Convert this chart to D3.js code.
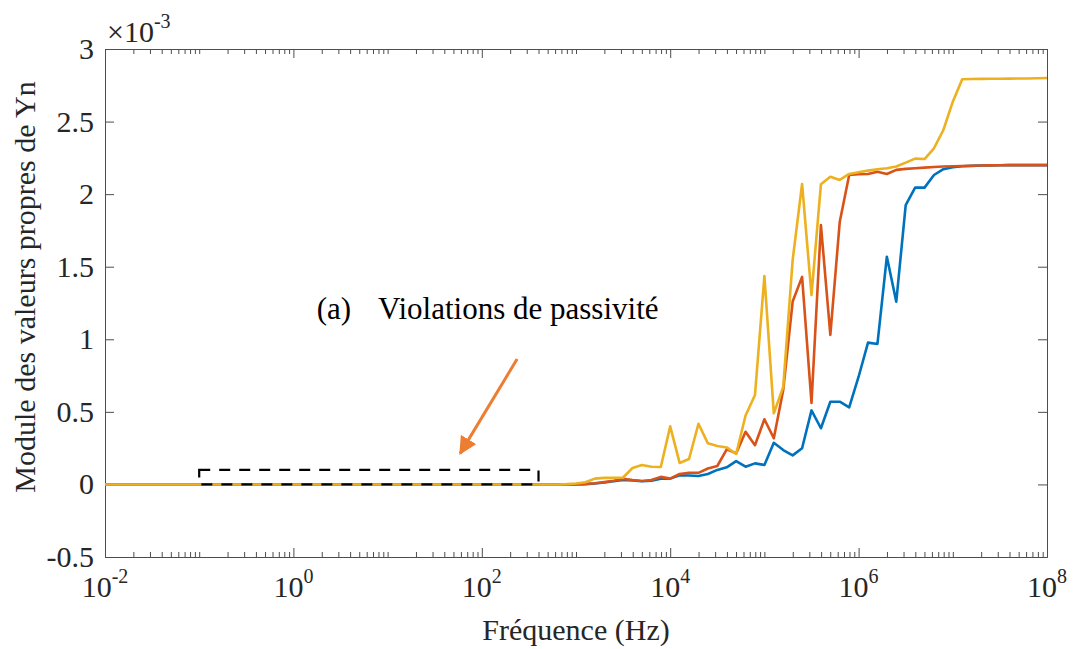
<!DOCTYPE html>
<html lang="fr">
<head>
<meta charset="UTF-8">
<title>Valeurs propres de Yn</title>
<style>
  body { margin: 0; background: #fff; }
  svg { display: block; font-family: "Liberation Serif", "Times New Roman", serif; }
</style>
</head>
<body>
<svg id="chart" width="1075" height="649"></svg>
<script src="https://cdnjs.cloudflare.com/ajax/libs/d3/7.8.5/d3.min.js"></script>
<script>
// frequency grid, as log10(f) in Hz
var logFreq = [-2, 2.5, 2.6, 2.7, 2.8, 2.9, 3.0, 3.1, 3.2, 3.3, 3.4, 3.5, 3.6, 3.7, 3.8, 3.9,
  4.0, 4.1, 4.2, 4.3, 4.4, 4.5, 4.6, 4.7, 4.8, 4.9, 5.0, 5.1, 5.2, 5.3, 5.4, 5.5, 5.6, 5.7, 5.8, 5.9,
  6.0, 6.1, 6.2, 6.3, 6.4, 6.5, 6.6, 6.7, 6.8, 6.9, 7.0, 7.1, 7.2, 7.3, 7.4, 7.5, 7.6, 7.7, 7.8, 7.9, 8.0];

// eigenvalue modules, in units of 1e-3
var blueVals = [0, 0, 0, 0, 0, 0, 0, 0.002, 0.006, 0.013, 0.022, 0.030, 0.028, 0.022, 0.025, 0.040,
  0.040, 0.063, 0.062, 0.058, 0.072, 0.100, 0.118, 0.161, 0.122, 0.145, 0.134, 0.287, 0.237, 0.200, 0.249, 0.510, 0.387, 0.570, 0.570, 0.531,
  0.742, 0.977, 0.968, 1.569, 1.259, 1.925, 2.045, 2.045, 2.132, 2.172, 2.186, 2.192, 2.195, 2.197, 2.198, 2.199, 2.200, 2.200, 2.200, 2.200, 2.200];
var redVals = [0, 0, 0, 0, 0, 0, 0.001, 0.003, 0.008, 0.016, 0.025, 0.038, 0.030, 0.024, 0.030, 0.052,
  0.040, 0.072, 0.080, 0.080, 0.110, 0.127, 0.242, 0.214, 0.363, 0.270, 0.449, 0.318, 0.650, 1.260, 1.430, 0.562, 1.787, 1.030, 1.810, 2.132,
  2.137, 2.139, 2.155, 2.139, 2.167, 2.174, 2.178, 2.183, 2.187, 2.190, 2.192, 2.194, 2.196, 2.197, 2.198, 2.199, 2.200, 2.200, 2.200, 2.200, 2.200];
var yellowVals = [0, 0, 0, 0, 0, 0.002, 0.006, 0.015, 0.040, 0.045, 0.046, 0.048, 0.113, 0.134, 0.122, 0.120,
  0.400, 0.148, 0.175, 0.418, 0.283, 0.265, 0.255, 0.210, 0.475, 0.616, 1.436, 0.490, 0.672, 1.546, 2.070, 1.305, 2.068, 2.120, 2.098, 2.139,
  2.151, 2.162, 2.171, 2.178, 2.190, 2.217, 2.245, 2.242, 2.316, 2.442, 2.637, 2.792, 2.793, 2.794, 2.795, 2.795, 2.796, 2.797, 2.797, 2.798, 2.800];

var seriesColors = ["#0072BD", "#D95319", "#EDB120"];

var xTickLabels = [-2, 0, 2, 4, 6, 8];            // labelled decades
var yTicks = [-0.5, 0, 0.5, 1, 1.5, 2, 2.5, 3];
var yTickLabels = ["-0.5", "0", "0.5", "1", "1.5", "2", "2.5", "3"];

// dashed box around the passivity violation zone (Hz, 1e-3)
var boxX = [0.1, 400];
var boxY = [0, 0.1];
// arrow from (Hz, 1e-3) to (Hz, 1e-3)
var arrowFrom = [237, 0.864];
var arrowTo = [59, 0.214];

(function() {
  var svg = d3.select("#chart");
  var mLeft = 105, mRight = 1047, mTop = 49, mBottom = 557;

  var x = d3.scaleLog().domain([1e-2, 1e8]).range([mLeft, mRight]);
  var y = d3.scaleLinear().domain([-0.5, 3]).range([mBottom, mTop]);

  var axisColor = "#4d4d4d", textColor = "#262626";

  // minor ticks for the log axis: every m x 10^k that is not a labelled decade
  var minorTicks = [];
  for (var k = -2; k < 8; k++) {
    for (var m = 1; m < 10; m++) {
      if (m === 1 && xTickLabels.indexOf(k) >= 0) continue;
      minorTicks.push(m * Math.pow(10, k));
    }
  }
  var majorTicks = xTickLabels.map(function(e) { return Math.pow(10, e); });

  var frame = svg.append("g");

  // bottom and top axes (ticks pointing inward)
  frame.append("g").attr("transform", "translate(0," + mBottom + ")")
    .call(d3.axisBottom(x).tickValues(minorTicks).tickSizeInner(-5).tickSizeOuter(0).tickFormat(""));
  frame.append("g").attr("transform", "translate(0," + mBottom + ")")
    .call(d3.axisBottom(x).tickValues(majorTicks).tickSizeInner(-9).tickSizeOuter(0).tickFormat(""));
  frame.append("g").attr("transform", "translate(0," + mTop + ")")
    .call(d3.axisTop(x).tickValues(minorTicks).tickSizeInner(-5).tickSizeOuter(0).tickFormat(""));
  frame.append("g").attr("transform", "translate(0," + mTop + ")")
    .call(d3.axisTop(x).tickValues(majorTicks).tickSizeInner(-9).tickSizeOuter(0).tickFormat(""));
  // left and right axes
  frame.append("g").attr("transform", "translate(" + mLeft + ",0)")
    .call(d3.axisLeft(y).tickValues(yTicks).tickSizeInner(-9).tickSizeOuter(0).tickFormat(""));
  frame.append("g").attr("transform", "translate(" + mRight + ",0)")
    .call(d3.axisRight(y).tickValues(yTicks).tickSizeInner(-9).tickSizeOuter(0).tickFormat(""));

  frame.selectAll("path.domain").attr("stroke", axisColor);
  frame.selectAll(".tick line").attr("stroke", axisColor);

  // x tick labels 10^k
  var xl = svg.append("g").selectAll("text").data(xTickLabels).enter().append("text")
    .attr("x", function(d) { return x(Math.pow(10, d)); })
    .attr("y", 597)
    .attr("text-anchor", "middle")
    .attr("fill", textColor)
    .style("font-size", "30px");
  xl.append("tspan").text("10");
  xl.append("tspan").attr("dy", -14).style("font-size", "20px").text(function(d) { return d; });

  // y tick labels
  svg.append("g").selectAll("text").data(yTicks).enter().append("text")
    .attr("x", mLeft - 11)
    .attr("y", function(d) { return y(d) + 10; })
    .attr("text-anchor", "end")
    .attr("fill", textColor)
    .style("font-size", "30px")
    .text(function(d, i) { return yTickLabels[i]; });

  // exponent multiplier
  var mult = svg.append("text").attr("x", 107).attr("y", 42).attr("fill", textColor).style("font-size", "30px");
  mult.append("tspan").text("\u00d710");
  mult.append("tspan").attr("dy", -14).style("font-size", "20px").text("-3");

  // axis labels
  svg.append("text")
    .attr("x", (mLeft + mRight) / 2).attr("y", 640)
    .attr("text-anchor", "middle").attr("fill", textColor)
    .style("font-size", "30px")
    .text("Fréquence (Hz)");
  svg.append("text")
    .attr("transform", "translate(35,287) rotate(-90)")
    .attr("text-anchor", "middle").attr("fill", textColor)
    .style("font-size", "30px")
    .text("Module des valeurs propres de Yn");

  // curves
  var line = d3.line()
    .x(function(d) { return x(Math.pow(10, d[0])); })
    .y(function(d) { return y(d[1]); });

  var plot = svg.append("g");
  [blueVals, redVals, yellowVals].forEach(function(vals, i) {
    plot.append("path")
      .datum(logFreq.map(function(e, j) { return [e, vals[j]]; }))
      .attr("fill", "none")
      .attr("stroke", seriesColors[i])
      .attr("stroke-width", 2.6)
      .attr("stroke-linejoin", "round")
      .attr("d", line);
  });

  // dashed box
  svg.append("rect")
    .attr("x", x(boxX[0])).attr("y", y(boxY[1]))
    .attr("width", x(boxX[1]) - x(boxX[0]))
    .attr("height", y(boxY[0]) - y(boxY[1]))
    .attr("fill", "none")
    .attr("stroke", "#000")
    .attr("stroke-width", 2.2)
    .attr("stroke-dasharray", "11,9");

  // arrow
  svg.append("defs").append("marker")
    .attr("id", "head").attr("viewBox", "0 0 10 10")
    .attr("refX", 9).attr("refY", 5)
    .attr("markerWidth", 6).attr("markerHeight", 6)
    .attr("markerUnits", "strokeWidth")
    .attr("orient", "auto")
    .append("path").attr("d", "M0,0 L10,5 L0,10 Z").attr("fill", "#ED7D31");
  svg.append("line")
    .attr("x1", x(arrowFrom[0])).attr("y1", y(arrowFrom[1]))
    .attr("x2", x(arrowTo[0])).attr("y2", y(arrowTo[1]))
    .attr("stroke", "#ED7D31")
    .attr("stroke-width", 3)
    .attr("marker-end", "url(#head)");

  // annotation text
  svg.append("text")
    .attr("x", x(1.77)).attr("y", y(1.14))
    .attr("fill", "#000").style("font-size", "31px")
    .text("(a)");
  svg.append("text")
    .attr("x", x(7.9)).attr("y", y(1.14))
    .attr("fill", "#000").style("font-size", "31px")
    .text("Violations de passivité");
})();
</script>
</body>
</html>
